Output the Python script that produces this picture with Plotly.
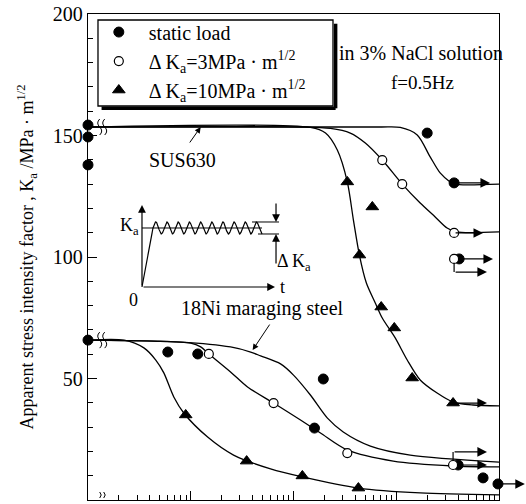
import numpy as np
import plotly.graph_objects as go

FONT = "Liberation Serif"

# ---------------- measured points ----------------
# SUS630
sus_static_t = [1, 1, 1, 2000, 3656, 4093]
sus_static_k = [154.3, 149.4, 137.9, 151.0, 130.5, 99.2]
sus_d3_t = [731, 1143, 3656, 3656]
sus_d3_k = [139.9, 130.0, 109.9, 99.2]
sus_d10_t = [334, 585, 438, 714, 957, 1429, 3573]
sus_d10_k = [130.9, 120.6, 100.8, 79.4, 70.8, 50.2, 39.9]

# 18Ni maraging steel
ni_static_t = [1, 5.98, 11.7, 195, 160, 4000, 7000, 9772]
ni_static_k = [65.8, 60.9, 60.1, 49.8, 29.6, 14.4, 9.1, 6.6]
ni_d3_t = [15.0, 64.0, 334, 3573]
ni_d3_k = [60.1, 39.9, 19.3, 14.4]
ni_d10_t = [8.93, 35.0, 122, 428]
ni_d10_k = [35.0, 16.0, 9.9, 4.9]

# ---------------- fitted curves ----------------
sus_static_curve_t = [1, 700, 1094, 1600, 2138, 2673, 3342, 3656, 10000]
sus_static_curve_k = [153.5, 153.5, 153.3, 150.2, 141.2, 134.6, 130.9, 130.0, 130.0]
sus_d3_curve_t = [1, 117, 229, 357, 500, 731, 1143, 1710, 2393, 3126, 3828, 10000]
sus_d3_curve_k = [153.5, 153.5, 152.9, 151.0, 146.9, 139.9, 130.0, 122.2, 116.5, 111.9, 110.3, 110.3]
sus_d10_curve_t = [1, 146, 205, 267, 334, 383, 438, 512, 625, 731, 977, 1279, 1710, 2500, 3573, 5598, 10000]
sus_d10_curve_k = [153.5, 153.3, 151.0, 144.0, 130.9, 115.2, 100.8, 89.3, 81.1, 74.9, 66.7, 57.6, 49.4, 44.0, 40.3, 39.1, 38.7]

ni_static_curve_t = [1, 8.0, 24.4, 38.3, 47.9, 74.8, 100, 146, 214, 305, 560, 1368, 10000]
ni_static_curve_k = [65.8, 65.0, 63.0, 60.9, 59.3, 56.0, 51.4, 43.2, 33.7, 28.0, 22.2, 18.5, 15.6]
ni_d3_curve_t = [1, 4.09, 10, 12.5, 15.0, 24.4, 35.7, 64.0, 117, 183, 334, 935, 3573, 10000]
ni_d3_curve_k = [65.8, 65.4, 64.6, 63.0, 60.1, 52.7, 46.5, 39.9, 32.9, 27.6, 20.6, 16.0, 14.0, 13.6]
ni_d10_curve_t = [1, 2.24, 3.50, 4.57, 5.47, 6.84, 8.55, 14.6, 26.1, 59.8, 122, 428, 1710, 10000]
ni_d10_curve_k = [65.8, 65.8, 62.6, 57.6, 52.3, 42.4, 35.8, 25.9, 18.5, 12.8, 9.5, 4.9, 2.9, 2.1]

# run-out specimens (not failed): (time at stop, arrow tip time, K)
runouts = [
    (3656, 8185, 130.5),
    (3656, 7000, 109.9),
    (4093, 8750, 99.2),
    (3573, 7638, 39.9),
    (4000, 7638, 14.4),
    (9772, 17865, 6.6),
]
# run-outs drawn with an offset leg: (time, K at point, K of arrow, arrow tip time)
runouts_offset = [
    (3656, 99.2, 93.8, 7638),
    (3573, 14.4, 19.8, 7638),
]

fig = go.Figure()

line_style = dict(color="black", width=1.3, shape="spline", smoothing=0.8)
for t, k in [
    (sus_static_curve_t, sus_static_curve_k),
    (sus_d3_curve_t, sus_d3_curve_k),
    (sus_d10_curve_t, sus_d10_curve_k),
    (ni_static_curve_t, ni_static_curve_k),
    (ni_d3_curve_t, ni_d3_curve_k),
    (ni_d10_curve_t, ni_d10_curve_k),
]:
    fig.add_trace(go.Scatter(x=t, y=k, mode="lines", line=line_style,
                             showlegend=False, hoverinfo="skip"))

for t, k0, k1, t1 in runouts_offset:
    fig.add_trace(go.Scatter(x=[t, t], y=[k0, k1], mode="lines",
                             line=dict(color="black", width=1.2),
                             showlegend=False, hoverinfo="skip"))

fig.add_trace(go.Scatter(
    x=sus_static_t + ni_static_t, y=sus_static_k + ni_static_k, mode="markers",
    name="static load", cliponaxis=False,
    marker=dict(symbol="circle", size=10, color="black", line=dict(color="black", width=1))))
fig.add_trace(go.Scatter(
    x=sus_d3_t + ni_d3_t, y=sus_d3_k + ni_d3_k, mode="markers",
    name="Δ K<sub>a</sub>=3MPa · m<sup>1/2</sup>", cliponaxis=False,
    marker=dict(symbol="circle", size=9, color="white", line=dict(color="black", width=1.2))))
fig.add_trace(go.Scatter(
    x=sus_d10_t + ni_d10_t, y=sus_d10_k + ni_d10_k, mode="markers",
    name="Δ K<sub>a</sub>=10MPa · m<sup>1/2</sup>", cliponaxis=False,
    marker=dict(symbol="triangle-up", size=11, color="black", line=dict(color="black", width=1))))

annotations = []
arrow = dict(showarrow=True, arrowhead=2, arrowsize=1.6, arrowwidth=1.2,
             arrowcolor="black", text="", xref="x", yref="y", axref="x", ayref="y")
for t0, t1, k in runouts:
    annotations.append(dict(x=np.log10(t1), y=k, ax=np.log10(t0), ay=k, **arrow))
for t, k0, k1, t1 in runouts_offset:
    annotations.append(dict(x=np.log10(t1), y=k1, ax=np.log10(t), ay=k1, **arrow))

txt = dict(family=FONT, size=20, color="black")
annotations += [
    dict(x=np.log10(12.5), y=153.5, xref="x", yref="y", ax=-12, ay=17, text="",
         showarrow=True, arrowhead=2, arrowsize=1.2, arrowwidth=1, arrowcolor="black"),
    dict(x=np.log10(8.4), y=140, xref="x", yref="y", text="SUS630", showarrow=False, font=txt),
    dict(x=np.log10(40), y=61.7, xref="x", yref="y", ax=18, ay=-27, text="",
         showarrow=True, arrowhead=2, arrowsize=1.2, arrowwidth=1, arrowcolor="black"),
    dict(x=np.log10(50), y=79.0, xref="x", yref="y", text="18Ni maraging steel",
         showarrow=False, font=txt),
    dict(x=0.81, y=0.947, xref="paper", yref="paper", xanchor="center",
         text="in 3% NaCl solution", showarrow=False,
         font=dict(family=FONT, size=20, color="black")),
    dict(x=0.815, y=0.885, xref="paper", yref="paper", xanchor="center",
         text="f=0.5Hz", showarrow=False,
         font=dict(family=FONT, size=19, color="black")),
]

# ---------------- inset: loading pattern ----------------
ramp_u = [0, 11]
ramp_v = [0, 59]
wave_u = np.linspace(11, 120, 400)
wave_v = 59 + 6 * np.sin(2 * np.pi * (wave_u - 11) / 11.18)
ins = dict(color="black", width=1.2)
fig.add_trace(go.Scatter(x=ramp_u, y=ramp_v, xaxis="x2", yaxis="y2", mode="lines",
                         line=ins, showlegend=False, hoverinfo="skip"))
fig.add_trace(go.Scatter(x=wave_u, y=wave_v, xaxis="x2", yaxis="y2", mode="lines",
                         line=ins, showlegend=False, hoverinfo="skip"))
for u, v in [([0, 120], [59, 59]), ([110, 137], [65, 65]), ([116, 137], [53, 53])]:
    fig.add_trace(go.Scatter(x=u, y=v, xaxis="x2", yaxis="y2", mode="lines",
                             line=dict(color="black", width=1), showlegend=False,
                             hoverinfo="skip"))
iarrow = dict(showarrow=True, arrowhead=2, arrowsize=1.3, arrowwidth=1.2,
              arrowcolor="black", text="", xref="x2", yref="y2", axref="x2", ayref="y2")
itxt = dict(family=FONT, size=18, color="black")
annotations += [
    dict(x=0, y=82, ax=0, ay=0, **iarrow),
    dict(x=133, y=0, ax=0, ay=0, **iarrow),
    dict(x=134, y=65, ax=134, ay=85, **iarrow),
    dict(x=134, y=53, ax=134, ay=22, **iarrow),
    dict(x=-1, y=60, xref="x2", yref="y2", text="K<sub>a</sub>", showarrow=False,
         xanchor="right", font=itxt),
    dict(x=-2, y=-1, xref="x2", yref="y2", text="0", showarrow=False,
         xanchor="right", yanchor="top", font=itxt),
    dict(x=140, y=0, xref="x2", yref="y2", text="t", showarrow=False,
         xanchor="center", font=itxt),
    dict(x=133, y=24, xref="x2", yref="y2", text="Δ K<sub>a</sub>", showarrow=False,
         xanchor="left", font=itxt),
]

# ---------------- break marks and legend frame ----------------
def s_strokes(offsets, h):
    return " ".join(f"M{d},{-h} Q{d + 4},{-h / 2} {d},0 Q{d - 4},{h / 2} {d},{h}" for d in offsets)

shapes = []
for k in (153.5, 65.8):
    shapes.append(dict(type="path", xref="x", yref="y", xsizemode="pixel", ysizemode="pixel",
                       xanchor=1.3, yanchor=k, path=s_strokes([0, 5], 8),
                       line=dict(color="black", width=1)))
shapes.append(dict(type="path", xref="x", yref="y", xsizemode="pixel", ysizemode="pixel",
                   xanchor=1.3, yanchor=0,
                   path="M0,2 Q3,5 0,8 M4,2 Q7,5 4,8", line=dict(color="black", width=1)))
# legend frame with drop shadow
shapes += [
    dict(type="rect", xref="paper", yref="paper", x0=0.0243, x1=0.5961, y0=0.8107, y1=0.9877,
         line=dict(color="black", width=1.3), fillcolor="rgba(0,0,0,0)"),
    dict(type="line", xref="paper", yref="paper", x0=0.033, x1=0.6025, y0=0.806, y1=0.806,
         line=dict(color="black", width=3.5)),
    dict(type="line", xref="paper", yref="paper", x0=0.6025, x1=0.6025, y0=0.806, y1=0.98,
         line=dict(color="black", width=3.5)),
]

fig.update_layout(
    width=526, height=504,
    margin=dict(l=88, r=27, t=14, b=4),
    paper_bgcolor="white", plot_bgcolor="white",
    font=dict(family=FONT, size=18, color="black"),
    showlegend=True,
    legend=dict(x=0.002, y=1.003, xanchor="left", yanchor="top",
                bgcolor="rgba(0,0,0,0)", borderwidth=0, itemwidth=50,
                font=dict(family=FONT, size=20, color="black"),
                tracegroupgap=0),
    xaxis=dict(type="log", range=[0, 4], showticklabels=False, ticks="inside",
               ticklen=9, tickwidth=1, dtick=1, showgrid=False, zeroline=False,
               showline=True, linecolor="black", linewidth=1.3, mirror=True,
               minor=dict(ticks="inside", ticklen=5, tickwidth=1, dtick="D1",
                          showgrid=False, tickcolor="black"),
               tickcolor="black"),
    yaxis=dict(range=[0, 200], dtick=50, ticks="inside", ticklen=9, tickwidth=1,
               tickcolor="black", showgrid=False, zeroline=False, showline=True,
               linecolor="black", linewidth=1.3, mirror=True,
               tickfont=dict(family=FONT, size=20, color="black"),
               minor=dict(ticks="inside", ticklen=5, dtick=10, tickcolor="black",
                          showgrid=False),
               title=dict(text="Apparent stress intensity factor , K<sub>a</sub> /MPa · m<sup>1/2</sup>",
                          font=dict(family=FONT, size=18, color="black"), standoff=14)),
    xaxis2=dict(domain=[0.0827, 0.4964], range=[-20, 150], visible=False, anchor="y2"),
    yaxis2=dict(domain=[0.4177, 0.6132], range=[-10, 85], visible=False, anchor="x2"),
    annotations=annotations,
    shapes=shapes,
)

fig.write_html("out.html")
